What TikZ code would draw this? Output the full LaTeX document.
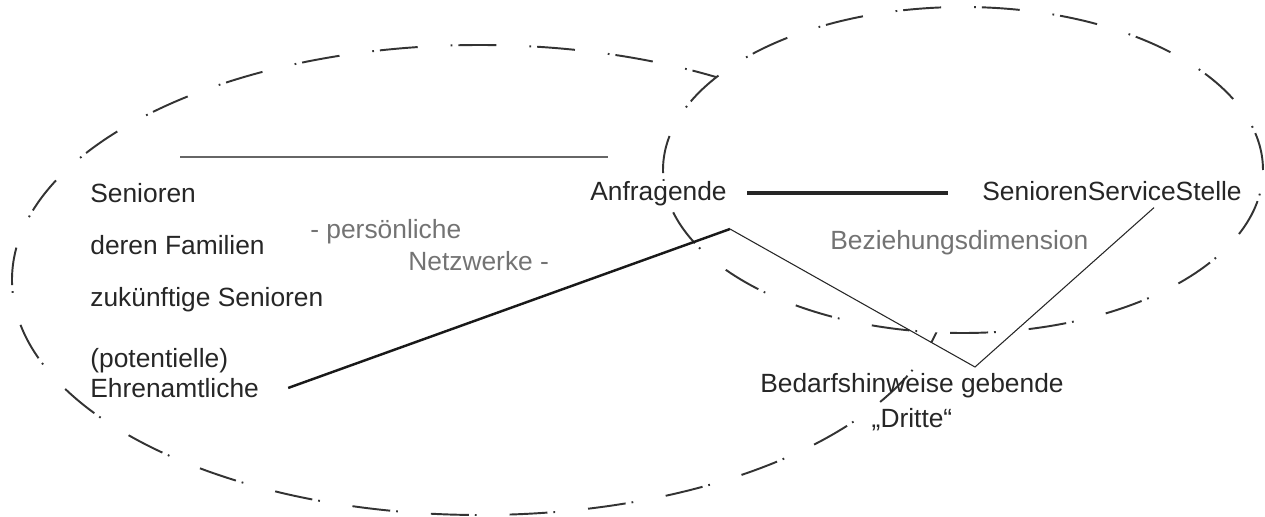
\documentclass[tikz,border=0pt]{standalone}
\usepackage{fontspec}
\setmainfont{Liberation Sans}
\usetikzlibrary{calc}

\begin{document}
\begin{tikzpicture}[
    label text/.style = {inner sep = 0, text = black!85, font = \fontsize{15}{17}\selectfont},
    side text/.style = {inner sep = 0, text = black!55, font = \fontsize{15}{17}\selectfont},
    outline/.style = {draw = black!80, line width = 1.1pt, dash pattern = on 21.6pt off 3.4pt on 1pt off 18.8pt}
  ]
      \useasboundingbox (0, 0) rectangle (25.3, 10.32);
      \draw [outline] (9.6, 4.72) ellipse (9.36 and 4.7);
      \draw [outline, fill = white] (19.26, 6.92) ellipse (6 and 3.26);

      \node (senioren) [label text, anchor = base west] at (1.8, 6.28) {Senioren};
      \node (familien) [label text, anchor = base west] at (1.8, 5.24) {deren Familien};
      \node (zukunft) [label text, anchor = base west] at (1.8, 4.2) {zukünftige Senioren};
      \node (ehrenamt) [label text, anchor = north west, align = left] at (1.8, 3.36) {(potentielle)\\Ehrenamtliche};
      \node (persoenlich) [side text, anchor = base west] at (6.2, 5.56) {- persönliche};
      \node (netzwerke) [side text, anchor = base west] at (8.16, 4.92) {Netzwerke -};
      \node (anfragende) [label text, anchor = base west] at (11.8, 6.32) {Anfragende};
      \node (sss) [label text, anchor = base west] at (19.64, 6.32) {SeniorenServiceStelle};
      \node (beziehung) [side text, anchor = base west] at (16.6, 5.34) {Beziehungsdimension};
      \node (dritte) [label text, anchor = north, align = center, font = \fontsize{15}{20}\selectfont] at (18.24, 2.86) {Bedarfshinweise gebende\\„Dritte“};

      \coordinate (oben links) at (3.6, 7.18);
      \coordinate (oben rechts) at (12.16, 7.18);
      \coordinate (anfrage unten) at (14.6, 5.74);
      \coordinate (knick) at (19.5, 2.98);

      \draw [line width = 1.4pt, black!60] (oben links) -- (oben rechts);
      \draw [line width = 2pt, black!85, shorten <= 0.4cm, shorten >= 0.68cm] (anfragende.east) -- (anfragende.east -| sss.west);
      \draw [line width = 1.4pt, black!90] ($(ehrenamt.south east) + (0.58, 0.2)$) -- (anfrage unten);
      \draw [line width = 0.6pt, black!85] (anfrage unten) -- (knick) -- ($(sss.south) + (0.84, -0.14)$);
    \end{tikzpicture}
\end{document}
